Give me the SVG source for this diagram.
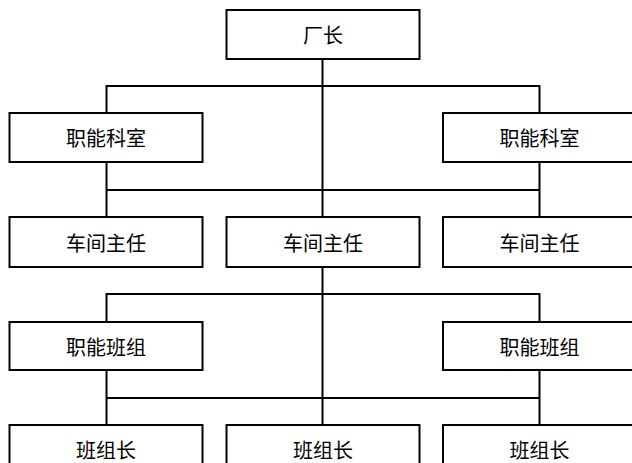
<svg xmlns="http://www.w3.org/2000/svg" width="632" height="463" viewBox="0 0 632 463">
<style>
.box{fill:#fff;stroke:#000;stroke-width:2}
.conn{fill:none;stroke:#000;stroke-width:2}
text{font-family:"Noto Sans CJK SC","Noto Sans CJK JP",sans-serif;font-size:20px;fill:#000;text-anchor:middle;dominant-baseline:central}
</style>
<rect width="632" height="463" fill="#fff"/>
<g id="connectors" class="conn">
<path d="M322.5 59V217M322.5 267V425"/>
<path d="M106.5 113V86H539.5V113"/>
<path d="M106.5 162V217M539.5 162V217M106.5 190H539.5"/>
<path d="M106.5 322V294H539.5V322"/>
<path d="M106.5 370V425M539.5 370V425M106.5 398H539.5"/>
</g>
<g id="n_changzhang"><rect class="box" x="226.5" y="10" width="193" height="49"/><text x="323" y="34.5">厂长</text></g>
<g id="n_kes1"><rect class="box" x="9.5" y="113" width="193" height="49"/><text x="106" y="137.5">职能科室</text></g>
<g id="n_kes2"><rect class="box" x="443" y="113" width="193" height="49"/><text x="539.5" y="137.5">职能科室</text></g>
<g id="n_zr1"><rect class="box" x="9.5" y="217" width="193" height="50"/><text x="106" y="242">车间主任</text></g>
<g id="n_zr2"><rect class="box" x="226.5" y="217" width="193" height="50"/><text x="323" y="242">车间主任</text></g>
<g id="n_zr3"><rect class="box" x="443" y="217" width="193" height="50"/><text x="539.5" y="242">车间主任</text></g>
<g id="n_bz1"><rect class="box" x="9.5" y="322" width="193" height="48"/><text x="106" y="346">职能班组</text></g>
<g id="n_bz2"><rect class="box" x="443" y="322" width="193" height="48"/><text x="539.5" y="346">职能班组</text></g>
<g id="n_bzz1"><rect class="box" x="9.5" y="425" width="193" height="49"/><text x="106" y="449.5">班组长</text></g>
<g id="n_bzz2"><rect class="box" x="226.5" y="425" width="193" height="49"/><text x="323" y="449.5">班组长</text></g>
<g id="n_bzz3"><rect class="box" x="443" y="425" width="193" height="49"/><text x="539.5" y="449.5">班组长</text></g>
</svg>
